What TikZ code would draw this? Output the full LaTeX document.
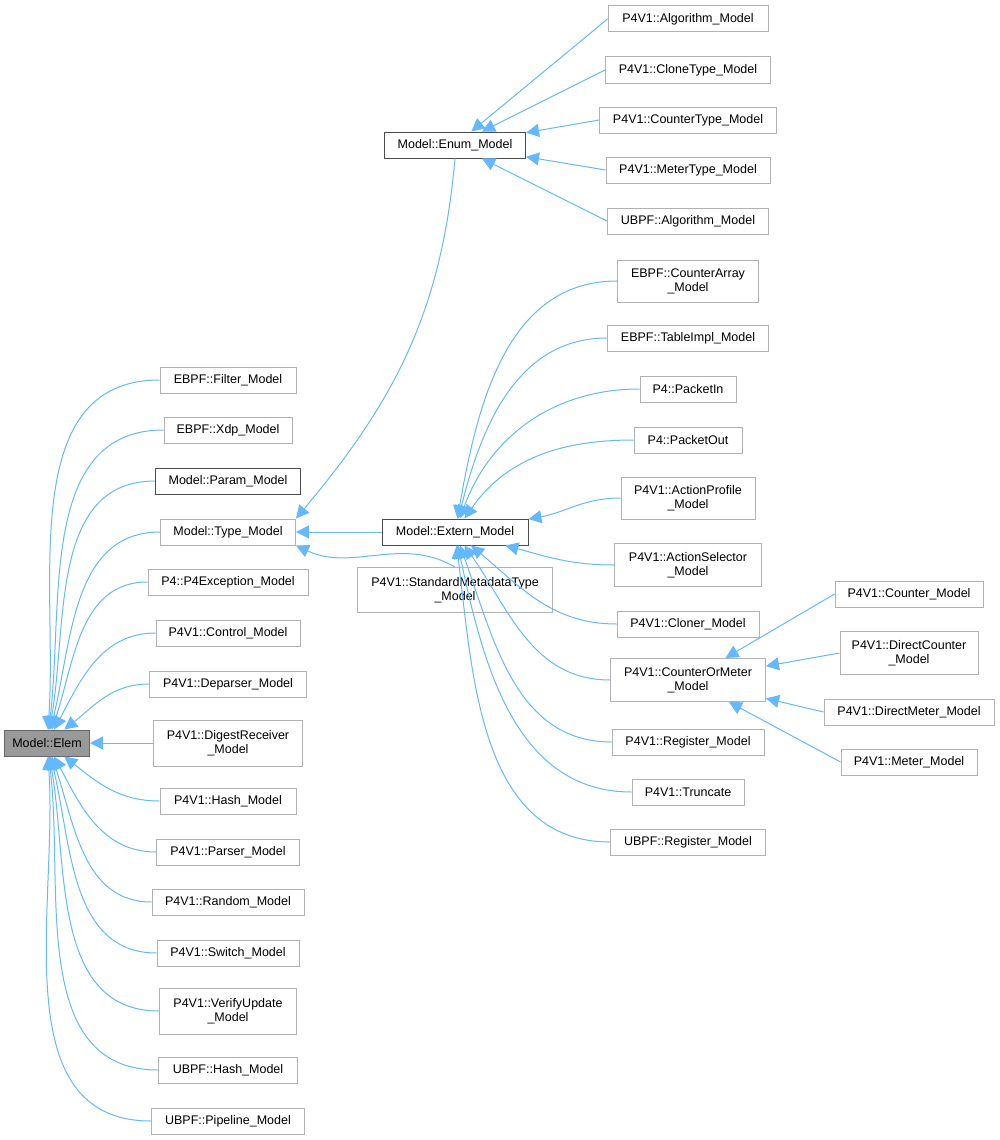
\documentclass[tikz,border=0pt]{standalone}
\usepackage{fontspec}
\setmainfont{Liberation Sans}
\usetikzlibrary{arrows.meta,positioning}

\definecolor{edgeblue}{RGB}{99,184,255}
\tikzset{
  cls/.style={draw=black!30,line width=1pt,fill=white,font=\fontsize{12.5}{14}\selectfont,align=center,inner sep=2pt,minimum height=26pt},
  main/.style={cls,draw=black!70},
  root/.style={cls,draw=black!60,fill=black!40},
  edge/.style={draw=edgeblue,line width=1pt,-{Triangle[length=13pt,width=13pt,fill=edgeblue]}}
}

\begin{document}
\begin{tikzpicture}[x=1pt,y=-1pt]
  \useasboundingbox (0,0) rectangle (1000,1140);
  % root and the classes that derive from it
  \node[root,minimum width=85pt] (elem) at (47,743) {Model::Elem};
  \node[cls,minimum width=136pt] (filter) at (228,380) {EBPF::Filter\_Model};
  \node[cls,minimum width=128pt] (xdp) at (228,430) {EBPF::Xdp\_Model};
  \node[main,minimum width=145pt] (param) at (228,481) {Model::Param\_Model};
  \node[cls,minimum width=135pt] (type) at (228,532) {Model::Type\_Model};
  \node[cls,minimum width=160pt] (p4exc) at (228,582) {P4::P4Exception\_Model};
  \node[cls,minimum width=144pt] (control) at (228,633) {P4V1::Control\_Model};
  \node[cls,minimum width=157pt] (deparser) at (228,684) {P4V1::Deparser\_Model};
  \node[cls,minimum width=149pt,minimum height=46pt] (digest) at (228,743) {P4V1::DigestReceiver\\\_Model};
  \node[cls,minimum width=136pt] (hash) at (228,801) {P4V1::Hash\_Model};
  \node[cls,minimum width=143pt] (parser) at (228,852) {P4V1::Parser\_Model};
  \node[cls,minimum width=152pt] (random) at (228,902) {P4V1::Random\_Model};
  \node[cls,minimum width=142pt] (switch) at (228,953) {P4V1::Switch\_Model};
  \node[cls,minimum width=137pt,minimum height=46pt] (verify) at (228,1011) {P4V1::VerifyUpdate\\\_Model};
  \node[cls,minimum width=139pt] (uhash) at (228,1070) {UBPF::Hash\_Model};
  \node[cls,minimum width=153pt] (pipeline) at (228,1121) {UBPF::Pipeline\_Model};
  % middle column
  \node[main,minimum width=141pt] (enum) at (455,145) {Model::Enum\_Model};
  \node[main,minimum width=146pt] (extern) at (455,532) {Model::Extern\_Model};
  \node[cls,minimum width=195pt,minimum height=45pt] (stdmeta) at (455,590) {P4V1::StandardMetadataType\\\_Model};
  % enum classes
  \node[cls,minimum width=160pt] (algo) at (688,19) {P4V1::Algorithm\_Model};
  \node[cls,minimum width=165pt] (clone) at (688,70) {P4V1::CloneType\_Model};
  \node[cls,minimum width=177pt] (ctype) at (688,120) {P4V1::CounterType\_Model};
  \node[cls,minimum width=164pt] (mtype) at (688,170) {P4V1::MeterType\_Model};
  \node[cls,minimum width=161pt] (ualgo) at (688,221) {UBPF::Algorithm\_Model};
  % extern classes
  \node[cls,minimum width=141pt,minimum height=42pt] (carray) at (688,281) {EBPF::CounterArray\\\_Model};
  \node[cls,minimum width=161pt] (timpl) at (688,338) {EBPF::TableImpl\_Model};
  \node[cls,minimum width=96pt] (pin) at (688,389) {P4::PacketIn};
  \node[cls,minimum width=108pt] (pout) at (688,440) {P4::PacketOut};
  \node[cls,minimum width=134pt,minimum height=42pt] (aprof) at (688,498) {P4V1::ActionProfile\\\_Model};
  \node[cls,minimum width=147pt,minimum height=43pt] (asel) at (688,565) {P4V1::ActionSelector\\\_Model};
  \node[cls,minimum width=142pt] (cloner) at (688,624) {P4V1::Cloner\_Model};
  \node[cls,minimum width=155pt,minimum height=43pt] (com) at (688,680) {P4V1::CounterOrMeter\\\_Model};
  \node[cls,minimum width=152pt] (reg) at (688,742) {P4V1::Register\_Model};
  \node[cls,minimum width=112pt] (trunc) at (688,792) {P4V1::Truncate};
  \node[cls,minimum width=155pt] (ureg) at (688,842) {UBPF::Register\_Model};
  % counter or meter classes
  \node[cls,minimum width=148pt] (counter) at (909,594) {P4V1::Counter\_Model};
  \node[cls,minimum width=138pt,minimum height=43pt] (dcounter) at (909,653) {P4V1::DirectCounter\\\_Model};
  \node[cls,minimum width=170pt] (dmeter) at (909,712) {P4V1::DirectMeter\_Model};
  \node[cls,minimum width=136pt] (meter) at (909,762) {P4V1::Meter\_Model};

  % edges into Model::Elem
  \foreach \n/\a in {filter/86,xdp/83,param/80,type/76,p4exc/71,control/62,deparser/38,
      hash/-38,parser/-62,random/-71,switch/-76,verify/-80,uhash/-83,pipeline/-86}
    \draw[edge] (\n.west) to[out=180,in=\a] (elem);
  \draw[edge] (digest) -- (elem);
  % type hierarchy
  \draw[edge] (enum.south) to[out=-95,in=50] (type.north east);
  \draw[edge] (extern) -- (type);
  \draw[edge] (stdmeta.north) to[out=150,in=-25] (type.south east);
  \foreach \n in {algo,clone,ctype,mtype,ualgo}
    \draw[edge] (\n.west) -- (enum);
  \foreach \n/\a in {carray/80,timpl/76,pin/70,pout/55,aprof/10,asel/-15,cloner/-40,com/-55,reg/-70,trunc/-78,ureg/-83}
    \draw[edge] (\n.west) to[out=180,in=\a] (extern);
  \foreach \n in {counter,dcounter,dmeter,meter}
    \draw[edge] (\n.west) -- (com);
\end{tikzpicture}
\end{document}
